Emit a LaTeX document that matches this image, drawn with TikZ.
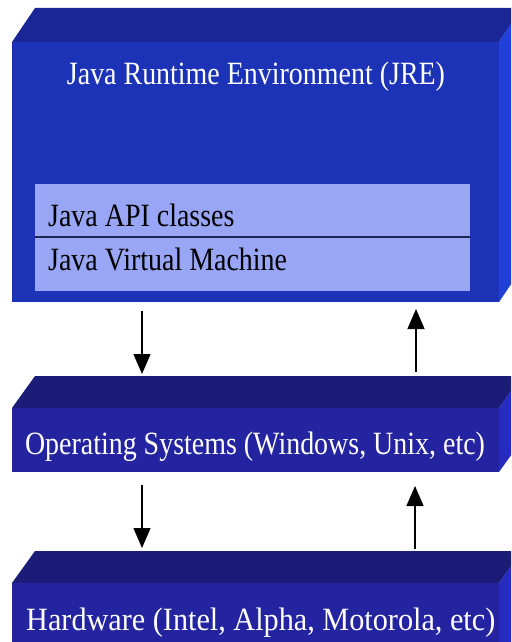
\documentclass[tikz,border=0pt]{standalone}
\usepackage{fontspec}
\setmainfont{Liberation Serif}
\newfontfamily\narrowserif[FakeStretch=0.86]{Liberation Serif}
\newfontfamily\hwserif[FakeStretch=0.93]{Liberation Serif}
\usetikzlibrary{arrows.meta}
\definecolor{jrefront}{RGB}{28,51,184}
\definecolor{jretop}{RGB}{26,38,150}
\definecolor{jreside}{RGB}{32,64,216}
\definecolor{osfront}{RGB}{36,36,160}
\definecolor{ostop}{RGB}{27,27,120}
\definecolor{osside}{RGB}{40,44,190}
\definecolor{innerfill}{RGB}{152,166,245}
\definecolor{divider}{RGB}{30,36,80}
\tikzset{
  lbl/.style={inner sep=0pt, font=\narrowserif\fontsize{32.5}{39}\selectfont, text=white},
  innerlbl/.style={inner sep=0pt, anchor=base west, font=\narrowserif\fontsize{32.5}{39}\selectfont, text=black},
  flow/.style={draw=black, line width=1.3pt, -{Triangle[width=17pt,length=20pt]}},
}
\begin{document}
\begin{tikzpicture}[x=1pt,y=-1pt]
\useasboundingbox (0,0) rectangle (511,642);
\begin{scope}
\clip (0,0) rectangle (511,642);
% JRE block
\fill[jretop] (12,42) -- (35,8) -- (522,8) -- (499,42) -- cycle;
\fill[jreside] (499,42) -- (522,8) -- (522,268) -- (499,302) -- cycle;
\fill[jrefront] (12,42) rectangle (499,302);
\fill[innerfill] (35,184) rectangle (470,291);
\draw[divider, line width=1.2pt] (35,237) -- (470,237);
% OS block
\fill[ostop] (12,408) -- (35,376) -- (522,376) -- (499,408) -- cycle;
\fill[osside] (499,408) -- (522,376) -- (522,440) -- (499,472) -- cycle;
\fill[osfront] (12,408) rectangle (499,472);
% Hardware block
\fill[ostop] (12,583) -- (35,551) -- (522,551) -- (499,583) -- cycle;
\fill[osside] (499,583) -- (522,551) -- (522,660) -- (499,660) -- cycle;
\fill[osfront] (12,583) rectangle (499,660);
\end{scope}
% texts
\node[lbl, anchor=base] (jre) at (256,84) {Java Runtime Environment (JRE)};
\node[innerlbl] (api) at (48,226) {Java API classes};
\node[innerlbl] (jvm) at (48,270) {Java Virtual Machine};
\node[lbl, anchor=base] (os) at (255,454) {Operating Systems (Windows, Unix, etc)};
\node[lbl, anchor=base west, font=\hwserif\fontsize{32.5}{39}\selectfont] (hw) at (26,630) {Hardware (Intel, Alpha, Motorola, etc)};
% arrow end points
\coordinate (jreL) at (142,311);
\coordinate (osTopL) at (142,374);
\coordinate (osTopR) at (416,372);
\coordinate (jreR) at (416,309);
\coordinate (osBotL) at (142,485);
\coordinate (hwTopL) at (142,548);
\coordinate (hwTopR) at (415,549);
\coordinate (osBotR) at (415,486);
\draw[flow] (jreL) -- (osTopL);
\draw[flow] (osTopR) -- (jreR);
\draw[flow] (osBotL) -- (hwTopL);
\draw[flow] (hwTopR) -- (osBotR);
\end{tikzpicture}
\end{document}
